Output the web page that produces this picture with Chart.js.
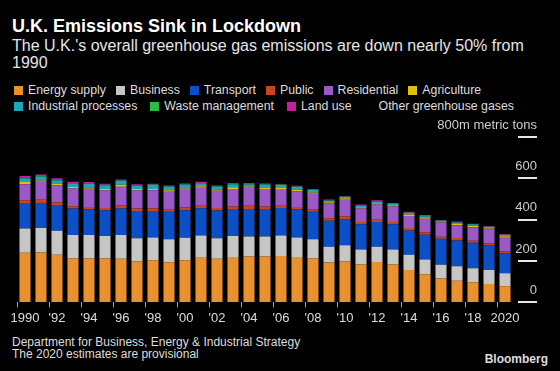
<!DOCTYPE html>
<html lang="en">
<head>
  <meta charset="UTF-8" />
  <title>U.K. Emissions Sink in Lockdown</title>
  <script src="https://cdn.jsdelivr.net/npm/chart.js"></script>
  <style>
    body {
      margin: 0;
      background: #000;
      color: #e6e6e6;
      font-family: 'Liberation Sans', Arial, sans-serif;
      width: 560px;
      height: 371px;
      overflow: hidden;
      position: relative;
    }
    h1 {
      position: absolute;
      left: 12px;
      top: 16px;
      margin: 0;
      font-size: 18px;
      line-height: 21px;
      font-weight: bold;
      color: #fff;
    }
    .sub {
      position: absolute;
      left: 12px;
      top: 37px;
      font-size: 16px;
      line-height: 17px;
      color: #e6e6e6;
    }
    .legend-row {
      position: absolute;
      left: 14px;
      display: flex;
      gap: 10px;
      font-size: 12.3px;
      line-height: 16px;
      color: #ddd;
      white-space: nowrap;
    }
    #legend2 { gap: 13px; }
    .legend-row span { display: flex; align-items: center; }
    .legend-row i {
      display: inline-block;
      width: 9px;
      height: 9px;
      margin-right: 5px;
    }
    .wrap {
      position: absolute;
      left: 0;
      top: 112px;
      width: 560px;
      height: 217px;
    }
    .foot {
      position: absolute;
      left: 12px;
      top: 336px;
      font-size: 12px;
      line-height: 12px;
      color: #ddd;
    }
    .brand {
      position: absolute;
      right: 12px;
      top: 352px;
      font-size: 12px;
      line-height: 14px;
      font-weight: bold;
      color: #ddd;
    }
  </style>
</head>
<body>
  <h1>U.K. Emissions Sink in Lockdown</h1>
  <div class="sub">The U.K.'s overall greenhouse gas emissions are down nearly 50% from<br>1990</div>
  <div class="legend-row" id="legend1" style="top:82px"></div>
  <div class="legend-row" id="legend2" style="top:98px"></div>
  <div class="wrap"><canvas id="chart"></canvas></div>
  <div class="foot">Department for Business, Energy &amp; Industrial Strategy<br>The 2020 estimates are provisional</div>
  <div class="brand">Bloomberg</div>

  <script>
    const years = ['1990', '1991', '1992', '1993', '1994', '1995', '1996', '1997', '1998', '1999',
      '2000', '2001', '2002', '2003', '2004', '2005', '2006', '2007', '2008', '2009',
      '2010', '2011', '2012', '2013', '2014', '2015', '2016', '2017', '2018', '2019', '2020'];

    // million metric tons
    const energySupply = [240, 241, 230, 212, 212, 212, 211, 199, 204, 194, 204, 216, 211, 220, 222, 222,
      225, 220, 212, 193, 199, 183, 196, 183, 157, 136, 115, 105, 97, 89, 78];
    const business = [117, 119, 117, 114, 114, 109, 115, 111, 110, 111, 109, 107, 99, 101, 97, 97,
      98, 94, 94, 76, 78, 73, 73, 73, 73, 71, 67, 70, 68, 68, 63];
    const transport = [124, 121, 121, 128, 125, 125, 128, 129, 128, 133, 133, 132, 134, 131, 133, 133,
      134, 137, 132, 126, 125, 122, 120, 122, 118, 120, 126, 125, 123, 119, 97];
    const publicSector = [13, 15, 15, 11, 11, 11, 16, 15, 13, 13, 13, 13, 13, 12, 15, 12,
      11, 11, 11, 12, 13, 11, 11, 11, 12, 12, 10, 11, 10, 9, 8];
    const residential = [78, 87, 83, 86, 88, 84, 89, 87, 88, 84, 86, 86, 83, 85, 87, 85,
      77, 74, 76, 71, 81, 65, 73, 75, 58, 66, 68, 62, 65, 67, 67];
    const agriculture = [10, 7, 9, 7, 6, 7, 10, 7, 6, 8, 6, 8, 6, 8, 7, 7,
      8, 9, 7, 7, 8, 6, 7, 6, 7, 7, 5, 6, 8, 6, 7];
    const industrial = [19, 19, 16, 17, 18, 19, 19, 17, 19, 17, 19, 14, 14, 15, 11, 14,
      15, 14, 12, 8, 7, 9, 8, 9, 8, 5, 5, 7, 7, 7, 6];
    const waste = [2, 2, 2, 2, 2, 2, 2, 2, 2, 2, 2, 2, 2, 2, 2, 2,
      2, 2, 2, 1, 1, 1, 1, 1, 1, 1, 1, 1, 1, 1, 1];
    const landUse = [8, 8, 8, 7, 6, 5, 5, 5, 4, 4, 3, 5, 4, 3, 3, 3,
      2, 3, 3, 4, 3, 3, 5, 1, 5, 5, 2, 4, 2, 4, 4];
    const otherGases = years.map(() => 0);

    const yTicks = [0, 200, 400, 600, 800];
    const yUnitLabel = '800m metric tons';

    const series = [
      { label: 'Energy supply', data: energySupply, color: '#e8912d' },
      { label: 'Business', data: business, color: '#c6c6c6' },
      { label: 'Transport', data: transport, color: '#0b50c6' },
      { label: 'Public', data: publicSector, color: '#c8461e' },
      { label: 'Residential', data: residential, color: '#9b59c8' },
      { label: 'Agriculture', data: agriculture, color: '#dcc00c' },
      { label: 'Industrial processes', data: industrial, color: '#19a7b9' },
      { label: 'Waste management', data: waste, color: '#2cbc44' },
      { label: 'Land use', data: landUse, color: '#c0229c' },
      { label: 'Other greenhouse gases', data: otherGases, color: '#000000' }
    ];

    // html legend, two rows like the original
    series.forEach((s, i) => {
      const el = document.createElement('span');
      el.innerHTML = `<i style="background:${s.color}"></i>${s.label}`;
      document.getElementById(i < 6 ? 'legend1' : 'legend2').appendChild(el);
    });

    // short lines under the right-hand value labels, plus the unit label on top
    const yTickLines = {
      id: 'yTickLines',
      afterDraw(chart) {
        const y = chart.scales.y;
        const ctx = chart.ctx;
        const x1 = chart.chartArea.right + 5;
        const x2 = x1 + 19;
        ctx.save();
        ctx.fillStyle = '#e6e6e6';
        yTicks.forEach(v => {
          const py = Math.round(y.getPixelForValue(v));
          ctx.fillRect(x1, py - 1, x2 - x1, 2);
        });
        ctx.fillStyle = '#ccc';
        ctx.font = '13px "Liberation Sans"';
        ctx.textAlign = 'right';
        ctx.textBaseline = 'middle';
        ctx.fillText(yUnitLabel, x2, y.getPixelForValue(800) - 12);
        ctx.restore();
      }
    };

    new Chart(document.getElementById('chart'), {
      type: 'bar',
      data: {
        labels: years,
        datasets: series.map(s => ({
          label: s.label,
          data: s.data,
          backgroundColor: s.color,
          borderWidth: 0,
          barPercentage: 0.69,
          categoryPercentage: 1
        }))
      },
      options: {
        responsive: true,
        maintainAspectRatio: false,
        animation: false,
        layout: { padding: { left: 17, right: 23, top: 25, bottom: 0 } },
        plugins: {
          legend: { display: false },
          tooltip: { enabled: false }
        },
        scales: {
          x: {
            stacked: true,
            grid: {
              drawOnChartArea: false,
              tickLength: 5,
              color: ctx => (ctx.index % 2 === 0 ? '#999' : 'transparent')
            },
            border: { display: false },
            ticks: {
              autoSkip: false,
              maxRotation: 0,
              padding: 3,
              color: '#ddd',
              font: { family: 'Liberation Sans', size: 13 },
              callback: (v, i) => {
                if (i % 2 !== 0) return '';
                const y = years[i];
                return (y === '1990' || y === '2020') ? y : "'" + y.slice(2);
              }
            }
          },
          y: {
            stacked: true,
            position: 'right',
            min: 0,
            max: 800,
            afterBuildTicks: axis => { axis.ticks = yTicks.map(v => ({ value: v })); },
            afterFit: axis => { axis.width = 24; },
            grid: { drawOnChartArea: false, drawTicks: false },
            border: { display: false },
            ticks: {
              crossAlign: 'far',
              padding: 0,
              labelOffset: -12,
              color: '#ccc',
              font: { family: 'Liberation Sans', size: 13 },
              callback: v => (v === 800 ? '' : v)
            }
          }
        }
      },
      plugins: [yTickLines]
    });
  </script>
</body>
</html>
